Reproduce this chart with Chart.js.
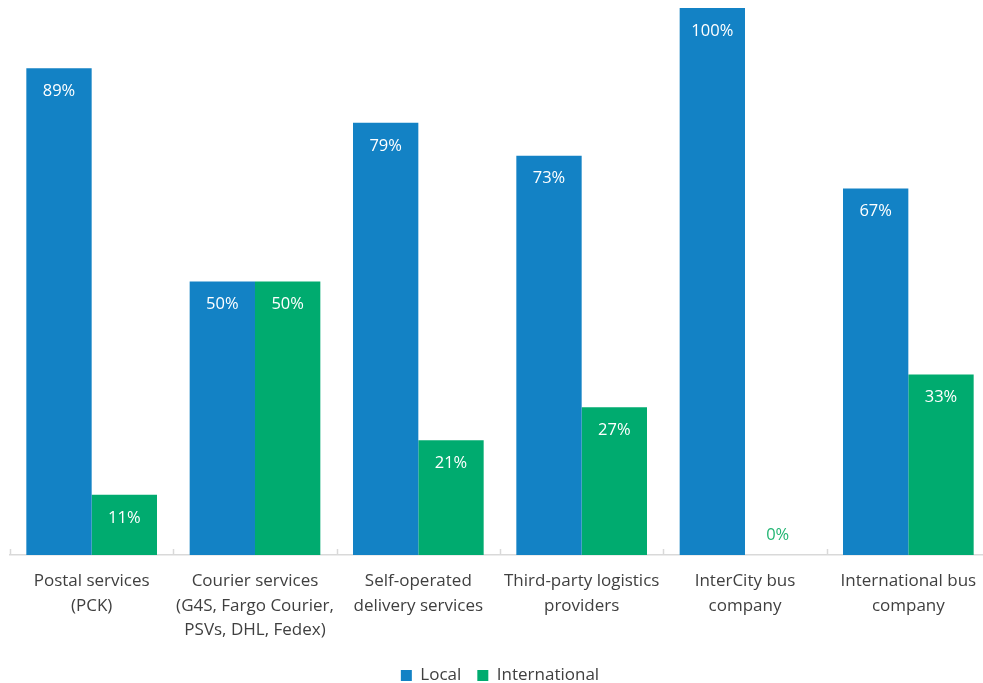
<!DOCTYPE html>
<html>
<head>
<meta charset="utf-8">
<script src="https://cdn.jsdelivr.net/npm/chart.js@4.4.1/dist/chart.umd.min.js"></script>
<style>
  html, body { margin: 0; padding: 0; background: #fff; overflow: hidden; }
  #wrap { width: 1009px; height: 683px; position: relative; }
</style>
</head>
<body>
<div id="wrap"><canvas id="channelChart"></canvas></div>
<script>
/* ===============================
   DELIVERY CHANNELS – LOCAL vs INTERNATIONAL
================================ */

const categories = [
  ["Postal services", "(PCK)"],
  ["Courier services", "(G4S, Fargo Courier,", "PSVs, DHL, Fedex)"],
  ["Self-operated", "delivery services"],
  ["Third-party logistics", "providers"],
  ["InterCity bus", "company"],
  ["International bus", "company"],
];

const localShare = [89, 50, 79, 73, 100, 67];
const internationalShare = [11, 50, 21, 27, 0, 33];

const BLUE = "#1382c5";
const GREEN = "#00ab6f";
const TEXT = "#404040";
const AXIS = "#d9d9d9";
const FONT = "'Open Sans', sans-serif";

// percentage labels: white inside the top of the bar, coloured just above the base when zero
const barLabels = {
  id: "barLabels",
  afterDatasetsDraw(chart) {
    const ctx = chart.ctx;
    ctx.save();
    ctx.font = "16.5px " + FONT;
    ctx.textAlign = "center";
    ctx.textBaseline = "middle";
    chart.data.datasets.forEach((ds, di) => {
      const meta = chart.getDatasetMeta(di);
      meta.data.forEach((bar, i) => {
        const v = ds.data[i];
        if (v === 0) {
          ctx.fillStyle = "#22b573";
          ctx.fillText(v + "%", bar.x, bar.base - 20);
        } else {
          ctx.fillStyle = "#ffffff";
          ctx.fillText(v + "%", bar.x, bar.y + 23);
        }
      });
    });
    ctx.restore();
  },
};

// small tick marks rising from the axis at each category boundary
const axisTicks = {
  id: "axisTicks",
  afterDraw(chart) {
    const x = chart.scales.x;
    const ctx = chart.ctx;
    const n = chart.data.labels.length;
    const step = (x.right - x.left) / n;
    ctx.save();
    ctx.strokeStyle = AXIS;
    ctx.lineWidth = 1.5;
    for (let i = 0; i <= n; i++) {
      const px = Math.round(x.left + i * step) + 0.5;
      ctx.beginPath();
      ctx.moveTo(px, x.top - 6);
      ctx.lineTo(px, x.top);
      ctx.stroke();
    }
    ctx.restore();
  },
};

const el = document.getElementById("channelChart");

new Chart(el, {
  type: "bar",
  data: {
    labels: categories,
    datasets: [
      {
        label: "Local",
        data: localShare,
        backgroundColor: BLUE,
        categoryPercentage: 0.8,
        barPercentage: 1.0,
      },
      {
        label: "International",
        data: internationalShare,
        backgroundColor: GREEN,
        categoryPercentage: 0.8,
        barPercentage: 1.0,
      },
    ],
  },
  options: {
    responsive: true,
    maintainAspectRatio: false,
    animation: false,
    layout: {
      padding: { left: 10, right: 19, top: 8, bottom: -11 },
    },
    plugins: {
      legend: {
        position: "bottom",
        labels: {
          boxWidth: 11,
          boxHeight: 11,
          padding: 16,
          color: TEXT,
          font: { family: FONT, size: 17 },
        },
      },
      tooltip: { enabled: false },
    },
    scales: {
      x: {
        grid: { display: false },
        border: { display: true, color: AXIS, width: 1.5 },
        ticks: {
          color: TEXT,
          padding: 6,
          maxRotation: 0,
          autoSkip: false,
          font: { family: FONT, size: 17, lineHeight: 1.45 },
        },
        afterFit: (scale) => {
          scale.height = 96;
        },
      },
      y: {
        display: false,
        min: 0,
        max: 100,
      },
    },
  },
  plugins: [barLabels, axisTicks],
});
</script>
</body>
</html>
